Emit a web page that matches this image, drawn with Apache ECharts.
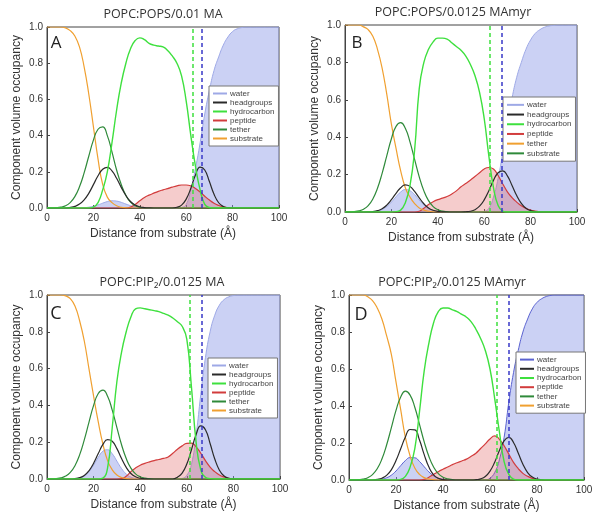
<!DOCTYPE html>
<html><head><meta charset="utf-8">
<script src="https://cdn.jsdelivr.net/npm/echarts@6/dist/echarts.min.js"></script>
<style>html,body{margin:0;padding:0;background:#fff}#c{width:600px;height:518px}</style>
</head><body><div id="c"></div>
<script>
// Distance from substrate (Å)
const X = [0,2,4,6,8,10,12,14,16,18,20,22,24,26,28,30,32,34,36,38,40,42,44,46,48,50,52,54,56,58,60,62,64,66,68,70,72,74,76,78,80,82,84,86,88,90,92,94,96,98,100];

// ---- Panel A: POPC:POPS/0.01 MA ----
const waterA = [0,0,0,0,0,0,0, 0.0006,0.0018,0.0044,0.0094,0.017,0.0267,0.0353,0.0398,0.0382,0.0313,0.0218,0.013,0.0066,0.0028,0.001, 0,0,0,0,0,0,0, 0.003,0.02,0.1,0.22,0.36,0.52,0.65,0.76,0.835,0.9,0.945,0.975,0.99,0.997, 1,1,1,1,1,1,1,1];
const headA = [0,0,0,0,0, 0.0033,0.009,0.0215,0.045,0.081,0.129,0.178,0.214,0.225,0.205,0.164,0.114,0.069,0.036,0.0167,0.0068,0.0024,0.0007, 0,0,0,0,0, 0.004,0.016,0.049,0.109,0.182,0.226,0.21,0.146,0.076,0.029,0.0085,0.0018, 0,0,0,0,0,0,0,0,0,0,0];
const hydroA = [0,0,0,0,0,0,0,0,0,0, 0.005,0.03,0.1,0.2,0.36,0.54,0.69,0.8,0.88,0.925, 0.94,0.93,0.91,0.9,0.895,0.89,0.87,0.84,0.8,0.73, 0.59,0.4,0.23,0.1,0.02,0.003,0, 0,0,0,0,0,0,0,0,0,0,0,0,0,0];
const pepA = [0,0,0,0,0,0,0,0,0,0,0,0,0,0,0,0,0,0, 0.005,0.02,0.04,0.058,0.071,0.082,0.092,0.1,0.107,0.115, 0.122,0.127,0.127,0.122,0.108,0.088,0.065,0.044,0.026,0.014, 0.006,0.002, 0,0,0,0,0,0,0,0,0,0,0];
const tethA = [0,0, 0.0015,0.005,0.012,0.03,0.063,0.117,0.194,0.286,0.375,0.435, 0.448,0.4,0.31,0.21,0.13,0.07,0.032,0.012,0.004,0.001, 0, 0,0,0,0,0,0,0,0,0,0,0,0,0,0,0,0,0,0,0,0,0,0,0,0,0,0,0,0];
const subA = [1,1,1,1,0.995,0.98,0.95,0.89,0.78,0.63,0.45,0.27,0.13,0.06,0.03,0.012,0.004,0.001, 0,0,0,0,0,0,0,0,0,0,0,0,0,0,0,0,0,0,0,0,0,0,0,0,0,0,0,0,0,0,0,0,0];

// ---- Panel B: POPC:POPS/0.0125 MAmyr ----
const waterB = [0,0,0,0,0,0, 0.0019,0.0055,0.0138,0.0293,0.053,0.0815,0.107,0.12,0.114,0.0926, 0.064,0.038,0.019,0.0081,0.003,0.001, 0,0,0,0,0,0,0,0, 0.003,0.02,0.08,0.18,0.32,0.48,0.61,0.72,0.8,0.87, 0.92,0.955,0.975,0.988,0.995,0.998, 1,1,1,1,1];
const headB = [0,0,0,0,0, 0.0007,0.0024,0.007,0.0174,0.0366,0.0657,0.1,0.13,0.145,0.137,0.11,0.0757,0.0442,0.022,0.0094,0.0034,0.001, 0,0,0,0, 0.0012,0.0042,0.0125,0.031,0.065,0.114,0.169,0.21,0.22,0.193,0.142,0.088,0.046,0.02,0.0074,0.0023, 0,0,0,0,0,0,0,0,0];
const hydroB = [0,0,0,0,0,0,0,0,0,0,0, 0.002,0.01,0.05,0.14,0.33,0.66,0.8,0.87,0.91,0.93, 0.93,0.925,0.905,0.885,0.865,0.835,0.79,0.73,0.64,0.5, 0.3,0.13,0.035,0.005,0, 0,0,0,0,0,0,0,0,0,0,0,0,0,0,0];
const pepB = [0,0,0,0,0,0,0,0,0,0,0,0,0,0,0,0, 0.004,0.02,0.04,0.055,0.066,0.074,0.083,0.096,0.113,0.135, 0.152,0.17,0.19,0.21,0.23,0.238,0.23,0.195,0.15,0.108, 0.077,0.053,0.033,0.02,0.01,0.005,0.002, 0,0,0,0,0,0,0,0];
const tethB = [0,0, 0.002,0.006,0.015,0.034,0.07,0.127,0.207,0.3,0.392,0.458, 0.478,0.448,0.375,0.281,0.188,0.113,0.061,0.029,0.012,0.005, 0.0017, 0,0,0,0,0,0,0,0,0,0,0,0,0,0,0,0,0,0,0,0,0,0,0,0,0,0,0,0];
const subB = [1,1,1,1,0.99,0.975,0.94,0.87,0.77,0.63, 0.47,0.34,0.22,0.13,0.08,0.045,0.022,0.01,0.004,0.001, 0,0,0,0,0,0,0,0,0,0,0,0,0,0,0,0,0,0,0,0,0,0,0,0,0,0,0,0,0,0,0];

// ---- Panel C: POPC:PIP2/0.0125 MA ----
const waterC = [0,0,0,0,0,0, 0.0018,0.0061,0.0172,0.04,0.0758,0.118,0.151,0.159,0.137,0.097,0.0566,0.027,0.0105,0.0034,0.001, 0,0,0,0,0,0,0,0, 0.003,0.02,0.08,0.24,0.46,0.66,0.8,0.89,0.945,0.975,0.99,0.997,1, 1,1,1,1,1,1,1,1,1];
const headC = [0,0,0,0,0,0, 0.0022,0.0072,0.0195,0.0447,0.0858,0.138,0.188,0.214,0.205,0.165,0.111,0.063,0.03,0.012,0.004,0.0012, 0,0,0,0,0,0, 0.01,0.032,0.081,0.159,0.242,0.289,0.268,0.193,0.109,0.048,0.016,0.004, 0,0,0,0,0,0,0,0,0,0,0];
const hydroC = [0,0,0,0,0,0,0,0,0,0,0,0, 0.005,0.06,0.28,0.53,0.69,0.8,0.88,0.925,0.93,0.925, 0.92,0.915,0.91,0.9,0.89,0.875,0.855,0.83,0.76,0.5, 0.2,0.05,0.01,0.002,0, 0,0,0,0,0,0,0,0,0,0,0,0,0,0];
const pepC = [0,0,0,0,0,0,0,0,0,0,0,0,0,0,0,0, 0.002,0.015,0.04,0.06,0.075,0.085,0.093,0.1,0.106,0.112, 0.12,0.14,0.162,0.18,0.194,0.195,0.175,0.14,0.1,0.065, 0.04,0.022,0.011,0.004,0.001, 0,0,0,0,0,0,0,0,0,0];
const tethC = [0,0, 0.0022,0.0063,0.0158,0.0356,0.0723,0.131,0.213,0.308,0.4,0.465, 0.483,0.45,0.374,0.279,0.186,0.111,0.059,0.028,0.012,0.0046, 0.0016, 0,0,0,0,0,0,0,0,0,0,0,0,0,0,0,0,0,0,0,0,0,0,0,0,0,0,0,0];
const subC = [1,1,1,1,0.995,0.98,0.94,0.86,0.75,0.6,0.45,0.31,0.19,0.1,0.05,0.022,0.008,0.002, 0,0,0,0,0,0,0,0,0,0,0,0,0,0,0,0,0,0,0,0,0,0,0,0,0,0,0,0,0,0,0,0,0];

// ---- Panel D: POPC:PIP2/0.0125 MAmyr ----
const waterD = [0,0,0,0,0,0, 0.0015,0.0046,0.012,0.026,0.0488,0.0776,0.105,0.121,0.12,0.1,0.0717,0.0436,0.0227,0.01,0.0038,0.0012, 0,0,0,0,0,0,0,0, 0.01,0.04,0.11,0.23,0.42,0.58,0.7,0.8,0.87,0.925,0.96,0.98,0.992,0.998, 1,1,1,1,1,1,1];
const headD = [0,0,0,0,0,0, 0.0031,0.0095,0.0248,0.055,0.105,0.169,0.233,0.273,0.271,0.216,0.137,0.07,0.028,0.009,0.0023, 0,0,0,0,0,0, 0.0017,0.0063,0.0192,0.0478,0.0964,0.159,0.212,0.23,0.203,0.146,0.0855,0.0404,0.0156,0.005,0.0014, 0,0,0,0,0,0,0,0,0];
const hydroD = [0,0,0,0,0,0,0,0,0,0,0, 0.003,0.02,0.07,0.17,0.37,0.59,0.74,0.85,0.91,0.93, 0.93,0.92,0.91,0.895,0.88,0.855,0.815,0.765,0.7,0.6, 0.44,0.26,0.1,0.03,0.005, 0,0,0,0,0,0,0,0,0,0,0,0,0,0,0];
const pepD = [0,0,0,0,0,0,0,0,0,0,0,0,0,0,0,0, 0.003,0.015,0.03,0.045,0.058,0.07,0.083,0.093,0.103,0.113, 0.128,0.145,0.17,0.195,0.222,0.238,0.22,0.185,0.14,0.095, 0.062,0.036,0.02,0.009,0.003, 0,0,0,0,0,0,0,0,0,0];
const tethD = [0,0, 0.0017,0.0048,0.0126,0.0292,0.0606,0.113,0.189,0.282,0.376,0.449, 0.48,0.459,0.393,0.301,0.206,0.127,0.07,0.034,0.015,0.0059, 0.0021, 0,0,0,0,0,0,0,0,0,0,0,0,0,0,0,0,0,0,0,0,0,0,0,0,0,0,0,0];
const subD = [1,1,1,1,0.99,0.97,0.93,0.87,0.78,0.68, 0.53,0.38,0.23,0.13,0.065,0.03,0.013,0.005,0.002, 0,0,0,0,0,0,0,0,0,0,0,0,0,0,0,0,0,0,0,0,0,0,0,0,0,0,0,0,0,0,0,0];

// dashed marker positions (Å)
const greenDash = [62.7, 62.3, 61.4, 62.8];
const blueDash = [66.6, 67.7, 66.6, 67.8];

const panelTitles = ['POPC:POPS/0.01 MA', 'POPC:POPS/0.0125 MAmyr', 'POPC:PIP\u2082/0.0125 MA', 'POPC:PIP\u2082/0.0125 MAmyr'];
const panelLetters = ['A', 'B', 'C', 'D'];
const legendNames = ['water', 'headgroups', 'hydrocarbon', 'peptide', 'tether', 'substrate'];

const C = {
  water: '#9ea9e6', waterFill: 'rgba(135,150,230,0.62)', waterDark: '#5a62d0',
  head: '#2a2a2a', hydro: '#3ee03e', pep: '#d23c3c', pepFill: 'rgba(225,95,95,0.45)',
  teth: '#2f8a3a', sub: '#f0a030', dashG: '#3ee03e', dashB: '#3838c8'
};

const panels = [
  {grid:{left:47,top:27,width:232,height:181}, w:waterA,h:headA,hc:hydroA,p:pepA,t:tethA,s:subA,
   title:[163,14], letter:[56,43,17], legend:{left:209,top:86,lh:9,iw:14},
   legendColors:[C.water,C.head,C.hydro,C.pep,C.teth,C.sub], waterLine:C.water},
  {grid:{left:345,top:25,width:232,height:187}, w:waterB,h:headB,hc:hydroB,p:pepB,t:tethB,s:subB,
   title:[453,12], letter:[357,43,17], legend:{left:503,top:97,lh:9.7,iw:17},
   legendColors:[C.water,C.head,C.hydro,C.pep,C.sub,C.teth], waterLine:C.water},
  {grid:{left:47,top:295,width:233,height:184}, w:waterC,h:headC,hc:hydroC,p:pepC,t:tethC,s:subC,
   title:[162,282], letter:[56,314,18], legend:{left:208,top:358,lh:9,iw:14},
   legendColors:[C.water,C.head,C.hydro,C.pep,C.teth,C.sub], waterLine:C.water},
  {grid:{left:349,top:295,width:235,height:185}, w:waterD,h:headD,hc:hydroD,p:pepD,t:tethD,s:subD,
   title:[452,282], letter:[361,315,18], legend:{left:516,top:352,lh:9.2,iw:14},
   legendColors:[C.waterDark,C.head,C.hydro,C.pep,C.teth,C.sub], waterLine:C.waterDark}
];

const zip = Y => X.map((x, i) => [x, Y[i]]);
const font = '"Liberation Sans", Arial, sans-serif';

const option = {
  animation: false,
  backgroundColor: '#fff',
  textStyle: {fontFamily: font},
  grid: [], xAxis: [], yAxis: [], series: [], legend: [], graphic: []
};

panels.forEach((P, k) => {
  option.grid.push(Object.assign({show: true, borderColor: '#444', borderWidth: 1, backgroundColor: 'transparent'}, P.grid));
  option.xAxis.push({
    type: 'value', gridIndex: k, min: 0, max: 100, interval: 20,
    axisLine: {lineStyle: {color: '#444', width: 1}},
    axisTick: {inside: true, length: 3, lineStyle: {color: '#444'}},
    axisLabel: {fontSize: 10, color: '#333', margin: 5},
    splitLine: {show: false},
    name: 'Distance from substrate (\u00c5)', nameLocation: 'middle', nameGap: 20,
    nameTextStyle: {fontSize: 12, color: '#333'}
  });
  option.yAxis.push({
    type: 'value', gridIndex: k, min: 0, max: 1, interval: 0.2,
    axisLine: {lineStyle: {color: '#444', width: 1}},
    axisTick: {inside: true, length: 3, lineStyle: {color: '#444'}},
    axisLabel: {fontSize: 10, color: '#333', margin: 4, formatter: v => v.toFixed(1)},
    splitLine: {show: false},
    name: 'Component volume occupancy', nameLocation: 'middle', nameGap: 24,
    nameTextStyle: {fontSize: 12, color: '#333'}
  });
  const base = {type: 'line', xAxisIndex: k, yAxisIndex: k, symbol: 'none', smooth: true, silent: true};
  option.series.push(Object.assign({}, base, {name: 'water', data: zip(P.w), z: 1,
    lineStyle: {color: P.waterLine, width: 1}, itemStyle: {color: P.waterLine}, areaStyle: {color: C.waterFill}}));
  option.series.push(Object.assign({}, base, {name: 'peptide', data: zip(P.p), z: 2,
    lineStyle: {color: C.pep, width: 1.2}, itemStyle: {color: C.pep}, areaStyle: {color: C.pepFill}}));
  option.series.push(Object.assign({}, base, {name: 'substrate', data: zip(P.s), z: 3,
    lineStyle: {color: C.sub, width: 1.2}, itemStyle: {color: C.sub}}));
  option.series.push(Object.assign({}, base, {name: 'tether', data: zip(P.t), z: 3,
    lineStyle: {color: C.teth, width: 1.2}, itemStyle: {color: C.teth}}));
  option.series.push(Object.assign({}, base, {name: 'headgroups', data: zip(P.h), z: 4,
    lineStyle: {color: C.head, width: 1.2}, itemStyle: {color: C.head}}));
  option.series.push(Object.assign({}, base, {name: 'hydrocarbon', data: zip(P.hc), z: 4,
    lineStyle: {color: C.hydro, width: 1.4}, itemStyle: {color: C.hydro},
    markLine: {silent: true, symbol: ['none', 'none'], label: {show: false},
      lineStyle: {type: [4, 3], width: 1.5},
      data: [{xAxis: greenDash[k], lineStyle: {color: C.dashG}}, {xAxis: blueDash[k], lineStyle: {color: C.dashB}}]}}));

  option.legend.push({
    orient: 'vertical', left: P.legend.left, top: P.legend.top, selectedMode: false,
    backgroundColor: '#fff', borderColor: '#777', borderWidth: 1, padding: [3, 4, 3, 4],
    icon: 'rect', itemWidth: P.legend.iw, itemHeight: 2, itemGap: 0,
    textStyle: {fontSize: 8, color: '#444', lineHeight: P.legend.lh, padding: [0, 0, 0, -2]},
    data: legendNames.map((n, i) => ({name: n, itemStyle: {color: P.legendColors[i]}}))
  });

  option.graphic.push({type: 'text', x: P.title[0], y: P.title[1], z: 10,
    style: {text: panelTitles[k], font: '12.5px "Open Sans", sans-serif', fill: '#333', textAlign: 'center', textVerticalAlign: 'middle'}});
  option.graphic.push({type: 'text', x: P.letter[0], y: P.letter[1], z: 10,
    style: {text: panelLetters[k], font: P.letter[2] + 'px "Open Sans", sans-serif', fill: '#222', textAlign: 'center', textVerticalAlign: 'middle'}});
});

const chart = echarts.init(document.getElementById('c'));
chart.setOption(option);
</script>
</body></html>
